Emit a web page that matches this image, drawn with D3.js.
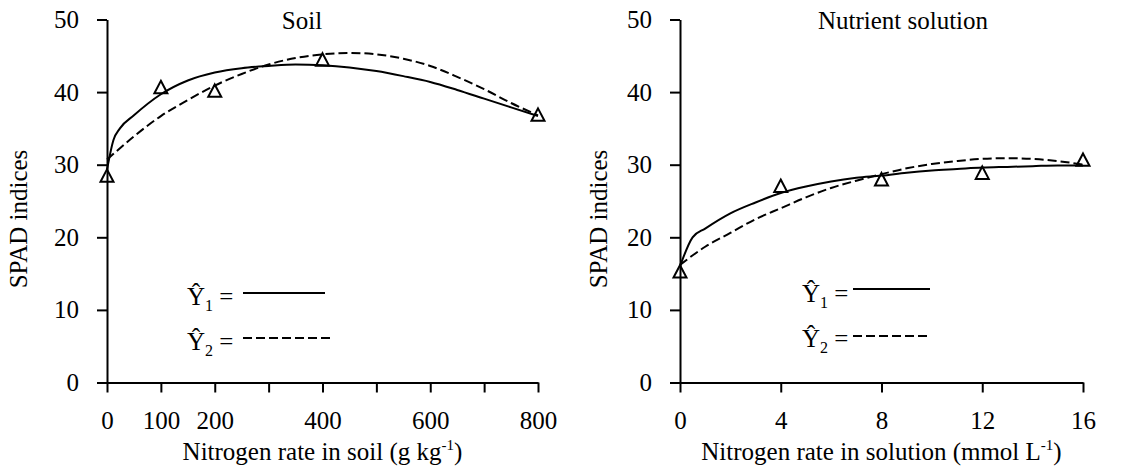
<!DOCTYPE html>
<html>
<head>
<meta charset="utf-8">
<script src="https://cdn.jsdelivr.net/npm/d3@7"></script>
<style>
  body { margin: 0; background: #fff; }
</style>
</head>
<body>
<div class="container"></div>
<script>
// observed SPAD readings
const soilRates = [0, 100, 200, 400, 800];
const soilSpad = [28.5, 40.7, 40.2, 44.5, 36.9];
const solRates = [0, 4, 8, 12, 16];
const solSpad = [15.3, 27.1, 28.0, 28.9, 30.7];

// fitted curves
const soilFit1X = [0, 12, 24, 50, 100, 150, 200, 250, 300, 350, 400, 450, 500, 550, 600, 650, 700, 750, 800];
const soilFit1Y = [29.3, 33.4, 35.0, 36.8, 39.7, 41.6, 42.7, 43.3, 43.6, 43.8, 43.7, 43.4, 42.9, 42.2, 41.4, 40.3, 39.1, 37.9, 36.7];
const soilFit2X = [0, 50, 100, 150, 200, 250, 300, 350, 400, 450, 500, 550, 600, 650, 700, 750, 800];
const soilFit2Y = [30.7, 33.9, 36.7, 38.9, 40.9, 42.5, 43.8, 44.7, 45.2, 45.4, 45.2, 44.6, 43.6, 42.1, 40.4, 38.5, 36.8];

const solFit1X = [0, 0.5, 1, 2, 3, 4, 5, 6, 7, 8, 9, 10, 11, 12, 13, 14, 15, 16];
const solFit1Y = [16.0, 20.0, 21.2, 23.3, 24.8, 26.1, 27.0, 27.7, 28.2, 28.5, 28.9, 29.2, 29.4, 29.6, 29.7, 29.8, 29.9, 29.9];
const solFit2X = [0, 1, 2, 3, 4, 5, 6, 7, 8, 9, 10, 11, 12, 13, 14, 15, 16];
const solFit2Y = [16.2, 18.7, 20.6, 22.5, 24.0, 25.5, 26.8, 27.8, 28.7, 29.5, 30.1, 30.5, 30.8, 30.9, 30.8, 30.5, 30.0];

// ticks
const spadTicks = [0, 10, 20, 30, 40, 50];
const soilTicks = [0, 100, 200, 300, 400, 500, 600, 700, 800];
const soilTickLabels = ['0', '100', '200', '', '400', '', '600', '', '800'];
const solTicks = [0, 4, 8, 12, 16];
const solTickLabels = ['0', '4', '8', '12', '16'];

const width = 1145;
const height = 471;
const plotTop = 19.5;
const plotBottom = 382.5;
const serif = '"Liberation Serif", "Times New Roman", "DejaVu Serif", serif';

const svg = d3
  .select('.container')
  .append('svg')
  .attr('width', width)
  .attr('height', height)
  .style('font-family', serif);

const zip = (xs, ys) => xs.map((x, i) => [x, ys[i]]);

const panels = [
  {
    title: 'Soil', titleX: 302,
    x0: 107, x1: 538, domain: [0, 800],
    ticks: soilTicks, tickLabels: soilTickLabels,
    points: zip(soilRates, soilSpad),
    fit1: zip(soilFit1X, soilFit1Y), fit2: zip(soilFit2X, soilFit2Y),
    ylabelX: 27,
    xlabel: ['Nitrogen rate in soil (g kg', ')'],
    legend: { tx: 187, ty1: 305, ty2: 350, lx0: 243, lx1: 325, lx2: 333, ly1: 293, ly2: 338 }
  },
  {
    title: 'Nutrient solution', titleX: 903,
    x0: 680, x1: 1083, domain: [0, 16],
    ticks: solTicks, tickLabels: solTickLabels,
    points: zip(solRates, solSpad),
    fit1: zip(solFit1X, solFit1Y), fit2: zip(solFit2X, solFit2Y),
    ylabelX: 607,
    xlabel: ['Nitrogen rate in solution (mmol L', ')'],
    legend: { tx: 802, ty1: 302, ty2: 347, lx0: 853, lx1: 930, lx2: 930, ly1: 289, ly2: 336 }
  }
];

panels.forEach((p) => {
  const x = d3.scaleLinear().domain(p.domain).range([p.x0, p.x1]);
  const y = d3.scaleLinear().domain([0, 50]).range([plotBottom, plotTop]);
  const g = svg.append('g');

  const yAxis = d3.axisLeft(y).tickValues(spadTicks).tickSize(10).tickSizeOuter(0).tickPadding(18);
  g.append('g')
    .attr('transform', `translate(${p.x0},0)`)
    .call(yAxis)
    .attr('font-family', serif)
    .attr('font-size', 25)
    .call((a) => a.selectAll('line, path').attr('stroke', '#000').attr('stroke-width', 2))
    .call((a) => a.selectAll('text').attr('fill', '#000'));

  const xAxis = d3.axisBottom(x)
    .tickValues(p.ticks)
    .tickFormat((d, i) => p.tickLabels[i])
    .tickSize(10).tickSizeOuter(0).tickPadding(19);
  g.append('g')
    .attr('transform', `translate(0,${plotBottom})`)
    .call(xAxis)
    .attr('font-family', serif)
    .attr('font-size', 25)
    .call((a) => a.selectAll('line, path').attr('stroke', '#000').attr('stroke-width', 2))
    .call((a) => a.selectAll('text').attr('fill', '#000'));

  const line = d3.line()
    .x((d) => x(d[0]))
    .y((d) => y(d[1]))
    .curve(d3.curveMonotoneX);

  g.append('path')
    .datum(p.fit1)
    .attr('fill', 'none')
    .attr('stroke', '#000')
    .attr('stroke-width', 2)
    .attr('d', line);

  g.append('path')
    .datum(p.fit2)
    .attr('fill', 'none')
    .attr('stroke', '#000')
    .attr('stroke-width', 2)
    .attr('stroke-dasharray', '9,4')
    .attr('d', line);

  g.append('g')
    .selectAll('path')
    .data(p.points)
    .join('path')
    .attr('transform', (d) => `translate(${x(d[0])},${y(d[1])})`)
    .attr('d', 'M0,-6.2L6.5,6.2L-6.5,6.2Z')
    .attr('fill', 'none')
    .attr('stroke', '#000')
    .attr('stroke-width', 2);

  // titles
  g.append('text')
    .attr('x', p.titleX)
    .attr('y', 29)
    .attr('text-anchor', 'middle')
    .attr('font-size', 25)
    .text(p.title);

  g.append('text')
    .attr('transform', `translate(${p.ylabelX},${(plotTop + plotBottom) / 2 + 18}) rotate(-90)`)
    .attr('text-anchor', 'middle')
    .attr('font-size', 25)
    .text('SPAD indices');

  const xl = g.append('text')
    .attr('x', (p.x0 + p.x1) / 2)
    .attr('y', 460)
    .attr('text-anchor', 'middle')
    .attr('font-size', 25);
  xl.append('tspan').text(p.xlabel[0]);
  xl.append('tspan').attr('font-size', 15).attr('dy', -10).text('-1');
  xl.append('tspan').attr('dy', 10).text(p.xlabel[1]);

  // legend
  const lg = p.legend;
  [[lg.ty1, '1'], [lg.ty2, '2']].forEach(([ty, s]) => {
    const t = g.append('text').attr('x', lg.tx).attr('y', ty).attr('font-size', 25);
    t.append('tspan').text('\u0176');
    t.append('tspan').attr('font-size', 16).attr('dy', 6).text(s);
    t.append('tspan').attr('dy', -6).text(' =');
  });
  g.append('line')
    .attr('x1', lg.lx0).attr('x2', lg.lx1)
    .attr('y1', lg.ly1).attr('y2', lg.ly1)
    .attr('stroke', '#000').attr('stroke-width', 2);
  g.append('line')
    .attr('x1', lg.lx0).attr('x2', lg.lx2)
    .attr('y1', lg.ly2).attr('y2', lg.ly2)
    .attr('stroke', '#000').attr('stroke-width', 2)
    .attr('stroke-dasharray', '9,4');
});
</script>
</body>
</html>
